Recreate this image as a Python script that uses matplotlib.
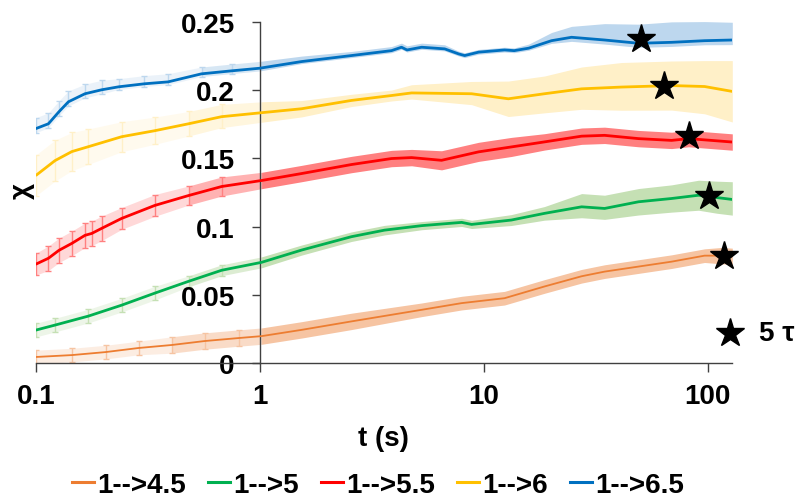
import matplotlib
matplotlib.use("Agg")
import matplotlib.pyplot as plt
from matplotlib.lines import Line2D
import numpy as np

plt.rcParams['font.family'] = ['Liberation Sans', 'DejaVu Sans']
plt.rcParams['font.weight'] = 'bold'

# ---------------- data ----------------
series_names = ['1-->4.5', '1-->5', '1-->5.5', '1-->6', '1-->6.5']

t_o = [0.1, 0.145, 0.205, 0.288, 0.405, 0.568, 0.806, 1.02, 1.54, 2.57, 5.29, 7.98, 12.4, 18.7, 27.4, 34.7, 49.2, 69.1, 97.0, 115.5, 129]
y_o = [0.0044, 0.0058, 0.008, 0.011, 0.0132, 0.0161, 0.0183, 0.0197, 0.0243, 0.0305, 0.039, 0.0439, 0.0475, 0.0561, 0.0636, 0.067, 0.0707, 0.0743, 0.0787, 0.0787, 0.0782]
eu_o = [0.005, 0.005, 0.005, 0.005, 0.006, 0.006, 0.006, 0.006, 0.006, 0.006, 0.005, 0.005, 0.005, 0.005, 0.005, 0.005, 0.005, 0.005, 0.005, 0.006, 0.006]
ed_o = eu_o

t_g = [0.1, 0.122, 0.172, 0.242, 0.34, 0.482, 0.677, 1.02, 1.54, 2.57, 3.61, 5.29, 7.98, 8.84, 13.3, 18.7, 27.4, 34.7, 49.2, 69.1, 91.2, 110, 129]
y_g = [0.0241, 0.0278, 0.0344, 0.0424, 0.0512, 0.0599, 0.068, 0.0738, 0.0828, 0.0926, 0.0974, 0.1007, 0.1031, 0.1016, 0.1048, 0.1097, 0.1145, 0.1133, 0.1182, 0.1206, 0.123, 0.1213, 0.1199]
eu_g = [0.005, 0.005, 0.005, 0.005, 0.005, 0.004, 0.004, 0.004, 0.0037, 0.0035, 0.0035, 0.003, 0.003, 0.003, 0.004, 0.005, 0.0097, 0.0097, 0.0097, 0.01, 0.011, 0.012, 0.013]
ed_g = [0.005, 0.005, 0.005, 0.005, 0.005, 0.004, 0.004, 0.004, 0.0037, 0.0035, 0.0035, 0.003, 0.003, 0.003, 0.004, 0.005, 0.008, 0.008, 0.0097, 0.01, 0.011, 0.0115, 0.0115]

t_r = [0.1, 0.114, 0.127, 0.145, 0.166, 0.178, 0.197, 0.242, 0.34, 0.482, 0.677, 1.02, 1.54, 2.57, 3.88, 4.77, 6.49, 9.5, 13.3, 18.7, 27.4, 34.7, 49.2, 69.1, 82.3, 129]
y_r = [0.0724, 0.0768, 0.0826, 0.0877, 0.0936, 0.095, 0.0987, 0.106, 0.1155, 0.1228, 0.1294, 0.1338, 0.1389, 0.1455, 0.1499, 0.1506, 0.1486, 0.1548, 0.1584, 0.1621, 0.1663, 0.1669, 0.1645, 0.1632, 0.1645, 0.162]
eu_r = [0.008, 0.009, 0.009, 0.009, 0.009, 0.009, 0.009, 0.008, 0.008, 0.007, 0.007, 0.006, 0.006, 0.006, 0.006, 0.006, 0.007, 0.007, 0.007, 0.006, 0.006, 0.006, 0.006, 0.006, 0.006, 0.006]
ed_r = eu_r

t_y = [0.1, 0.122, 0.145, 0.172, 0.242, 0.34, 0.482, 0.677, 1.02, 1.54, 2.57, 3.88, 4.77, 8.84, 12.9, 18.7, 27.4, 41.3, 69.1, 97.0, 129]
y_y = [0.1374, 0.1484, 0.155, 0.1586, 0.1659, 0.1703, 0.1754, 0.1806, 0.1835, 0.1864, 0.1925, 0.1961, 0.198, 0.1974, 0.1937, 0.1974, 0.201, 0.2023, 0.2034, 0.2027, 0.1991]
eu_y = [0.015, 0.015, 0.014, 0.013, 0.011, 0.01, 0.009, 0.009, 0.008, 0.006, 0.0045, 0.004, 0.006, 0.009, 0.013, 0.013, 0.016, 0.018, 0.018, 0.019, 0.0226]
ed_y = [0.015, 0.015, 0.014, 0.013, 0.011, 0.01, 0.009, 0.008, 0.007, 0.006, 0.0045, 0.004, 0.0045, 0.008, 0.013, 0.014, 0.015, 0.017, 0.018, 0.02, 0.0224]

t_b = [0.1, 0.114, 0.127, 0.14, 0.166, 0.197, 0.235, 0.306, 0.39, 0.55, 0.75, 1.0, 1.54, 2.57, 3.88, 4.3, 4.55, 5.29, 6.7, 7.74, 8.23, 9.5, 12.4, 13.7, 15.9, 20.1, 24.7, 34.7, 49.2, 69.1, 97.0, 129]
y_b = [0.1718, 0.1754, 0.1842, 0.1915, 0.1974, 0.2003, 0.2025, 0.2047, 0.2061, 0.212, 0.2142, 0.2161, 0.221, 0.2254, 0.229, 0.2315, 0.2295, 0.2315, 0.2303, 0.2266, 0.2254, 0.2279, 0.2295, 0.229, 0.2308, 0.2363, 0.2388, 0.2368, 0.2344, 0.2351, 0.2363, 0.2368]
eu_b = [0.008, 0.008, 0.008, 0.008, 0.007, 0.007, 0.006, 0.006, 0.006, 0.005, 0.005, 0.005, 0.004, 0.003, 0.003, 0.003, 0.003, 0.003, 0.003, 0.002, 0.002, 0.002, 0.002, 0.002, 0.003, 0.006, 0.008, 0.012, 0.014, 0.015, 0.014, 0.013]
ed_b = [0.003, 0.003, 0.003, 0.003, 0.003, 0.003, 0.002, 0.002, 0.002, 0.002, 0.002, 0.002, 0.0015, 0.0015, 0.0015, 0.0015, 0.0015, 0.0015, 0.0015, 0.0015, 0.0015, 0.0015, 0.0015, 0.0015, 0.0015, 0.002, 0.003, 0.003, 0.003, 0.003, 0.003, 0.0034]

# 5 tau markers
star_t = [118, 101, 82.3, 63.6, 50.7]
star_y = [0.0782, 0.1228, 0.1667, 0.2032, 0.2376]
key_star_t = 125.4
key_star_y = 0.0219

line_colors = ['#ED7D31', '#00B050', '#FF0000', '#FFC000', '#0070C0']
band_colors = ['#F6C4A2', '#C5E0B4', '#FF8080', '#FFF0C8', '#BDD7EE']
line_widths = [1.3, 2.0, 2.0, 2.0, 2.0]

all_t = [t_o, t_g, t_r, t_y, t_b]
all_y = [y_o, y_g, y_r, y_y, y_b]
all_eu = [eu_o, eu_g, eu_r, eu_y, eu_b]
all_ed = [ed_o, ed_g, ed_r, ed_y, ed_b]

# ---------------- figure ----------------
fig = plt.figure(figsize=(7.96, 5.02), dpi=100)
ax = fig.add_axes([35.7 / 796, 1 - 364 / 502, (732.3 - 35.7) / 796, (364 - 23) / 502])
ax.set_xscale('log')
ax.set_xlim(0.1, 129)
ax.set_ylim(0, 0.25)

T_SPLIT = 0.4
T_MID = 0.9
for t, y, eu, ed, lc, bc, lw in zip(all_t, all_y, all_eu, all_ed, line_colors, band_colors, line_widths):
    t = np.asarray(t); y = np.asarray(y); eu = np.asarray(eu); ed = np.asarray(ed)
    k = int(np.argmax(t >= T_SPLIT))
    m = int(np.argmax(t >= T_MID))
    # early: individual error bars over a faint band
    ax.fill_between(t[:k + 1], (y - ed)[:k + 1], (y + eu)[:k + 1], color=bc, alpha=0.3, lw=0, zorder=1)
    ax.errorbar(t[:m], y[:m], yerr=[ed[:m], eu[:m]], fmt='none', ecolor=bc, elinewidth=1.0,
                capsize=2.5, capthick=1.0, zorder=1.5)
    # transition: medium band
    ax.fill_between(t[k:m + 1], (y - ed)[k:m + 1], (y + eu)[k:m + 1], color=bc, alpha=0.6, lw=0, zorder=1)
    # later: solid band
    ax.fill_between(t[m:], (y - ed)[m:], (y + eu)[m:], color=bc, lw=0, zorder=1, clip_on=False)
    ax.plot(t, y, color=lc, lw=lw, zorder=3, solid_capstyle='butt')

ax.plot(star_t, star_y, ls='none', marker='*', ms=21, color='black', zorder=5, clip_on=False)
ax.plot([key_star_t], [key_star_y], ls='none', marker='*', ms=21, color='black', zorder=5, clip_on=False)
ax.annotate('5 τ', xy=(key_star_t, key_star_y), xytext=(21, 0), textcoords='offset points',
            va='center', ha='left', fontsize=20, fontweight='bold', annotation_clip=False)

# axes styling (Excel-like: vertical axis crosses at t = 1)
spine_col = '#404040'
for s in ['top', 'right']:
    ax.spines[s].set_visible(False)
ax.spines['left'].set_position(('data', 1))
ax.spines['left'].set_color(spine_col)
ax.spines['bottom'].set_color(spine_col)
ax.spines['left'].set_linewidth(1.0)
ax.spines['bottom'].set_linewidth(1.0)

ax.set_xticks([0.1, 1, 10, 100])
ax.set_xticklabels(['0.1', '1', '10', '100'])
ax.xaxis.set_minor_locator(matplotlib.ticker.NullLocator())
ax.set_yticks([0, 0.05, 0.1, 0.15, 0.2, 0.25])
ax.set_yticklabels(['0', '0.05', '0.1', '0.15', '0.2', '0.25'])
ax.tick_params(axis='x', direction='out', length=6.5, width=1.0, color=spine_col, pad=8,
               labelsize=20)
ax.tick_params(axis='y', direction='out', length=6, width=1.0, color=spine_col, pad=12,
               labelsize=20)
for lab in ax.get_xticklabels() + ax.get_yticklabels():
    lab.set_fontweight('bold')

fig.text(22 / 796, 1 - 191 / 502, 'χ', rotation=90, ha='center', va='center',
         fontsize=20, fontweight='bold')
fig.text(383 / 796, 1 - 439 / 502, 't (s)', ha='center', va='center',
         fontsize=20, fontweight='bold')

handles = [Line2D([0], [0], color=c, lw=2.2) for c in line_colors]
fig.legend(handles, series_names, loc='center', bbox_to_anchor=(378 / 796, 1 - 486 / 502),
           ncol=5, frameon=False, handlelength=0.8, handletextpad=0.1,
           columnspacing=0.8, prop={'weight': 'bold', 'size': 20})

fig.savefig('out.png', dpi=100)
